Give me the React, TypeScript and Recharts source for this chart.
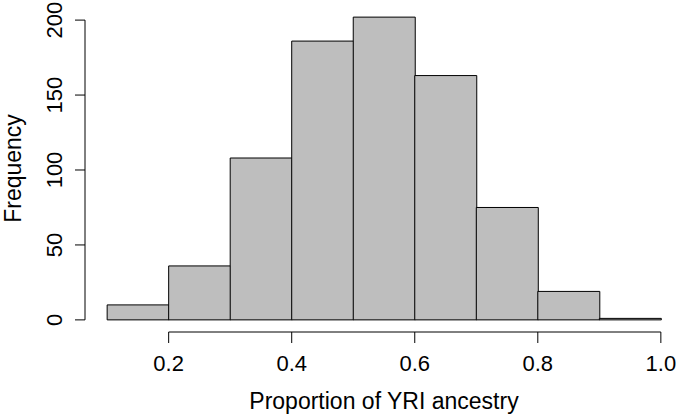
import React from 'react';
import { BarChart, Bar, XAxis, YAxis, ReferenceLine } from 'recharts';

// histogram bins (left edges) and counts, bin width 0.1
const binStarts = [0.1, 0.2, 0.3, 0.4, 0.5, 0.6, 0.7, 0.8, 0.9];
const counts = [10, 36, 108, 186, 202, 163, 75, 19, 1];
const binWidth = 0.1;

const xTicks = [0.2, 0.4, 0.6, 0.8, 1.0];
const xTickLabels = ['0.2', '0.4', '0.6', '0.8', '1.0'];
const yTicks = [0, 50, 100, 150, 200];

const xTitle = 'Proportion of YRI ancestry';
const yTitle = 'Frequency';

const FONT = '"Liberation Sans", Arial, Helvetica, sans-serif';

const data = binStarts.map((s, i) => ({
    start: s,
    mid: Math.round((s + binWidth / 2) * 100) / 100,
    count: counts[i],
}));

// R-style 4% padding around the data range
const xLo = binStarts[0];
const xHi = binStarts[binStarts.length - 1] + binWidth;
const xPad = (xHi - xLo) * 0.04;
const yMax = Math.max(...counts);
const yPad = yMax * 0.04;

const XTick = ({ x, y, payload }: any) => {
    const i = xTicks.indexOf(payload.value);
    return (
        <g>
            <line x1={x} y1={y} x2={x} y2={y + 11} stroke="#000" strokeWidth={1} />
            <text x={x} y={y + 39} textAnchor="middle" fontSize={22} fontFamily={FONT} fill="#000">
                {i >= 0 ? xTickLabels[i] : payload.value}
            </text>
        </g>
    );
};

const YTick = ({ x, y, payload }: any) => {
    const tx = x - 22.5;
    return (
        <g>
            <line x1={x} y1={y} x2={x - 10} y2={y} stroke="#000" strokeWidth={1} />
            <text
                x={tx}
                y={y}
                transform={`rotate(-90, ${tx}, ${y})`}
                textAnchor="middle"
                fontSize={22}
                fontFamily={FONT}
                fill="#000"
            >
                {payload.value}
            </text>
        </g>
    );
};

const XTitle = ({ viewBox }: any) => {
    const vb = viewBox || { x: 85, y: 332, width: 598, height: 87 };
    return (
        <text x={vb.x + vb.width / 2} y={vb.y + 77} textAnchor="middle" fontSize={23} fontFamily={FONT} fill="#000">
            {xTitle}
        </text>
    );
};

const YTitle = ({ viewBox }: any) => {
    const vb = viewBox || { x: 0, y: 5, width: 85, height: 327 };
    const tx = vb.x + 21;
    const ty = vb.y + vb.height / 2;
    return (
        <text
            x={tx}
            y={ty}
            transform={`rotate(-90, ${tx}, ${ty})`}
            textAnchor="middle"
            fontSize={23}
            fontFamily={FONT}
            fill="#000"
        >
            {yTitle}
        </text>
    );
};

export default function App() {
    return (
        <div style={{ position: 'absolute', left: 0, top: 0, width: 678, height: 419, overflow: 'hidden', background: '#fff' }}>
            <BarChart
                width={683}
                height={419}
                data={data}
                margin={{ top: 5, right: 0, bottom: 0, left: 0 }}
                barCategoryGap={0}
                barGap={0}
                style={{ fontFamily: FONT }}
            >
                <XAxis
                    dataKey="mid"
                    type="number"
                    domain={[xLo - xPad, xHi + xPad]}
                    allowDataOverflow
                    ticks={xTicks}
                    interval={0}
                    axisLine={false}
                    tickLine={false}
                    tickSize={0}
                    tickMargin={0}
                    height={87}
                    tick={<XTick />}
                    label={<XTitle />}
                />
                <YAxis
                    type="number"
                    domain={[-yPad, yMax + yPad]}
                    allowDataOverflow
                    ticks={yTicks}
                    interval={0}
                    axisLine={false}
                    tickLine={false}
                    tickSize={0}
                    tickMargin={0}
                    width={85}
                    tick={<YTick />}
                    label={<YTitle />}
                />
                <Bar dataKey="count" fill="#bebebe" stroke="#000" strokeWidth={1} isAnimationActive={false} />
                <ReferenceLine
                    segment={[{ x: xTicks[0], y: -yPad }, { x: xTicks[xTicks.length - 1], y: -yPad }]}
                    stroke="#000"
                    strokeWidth={1}
                    ifOverflow="visible"
                />
                <ReferenceLine
                    segment={[{ x: xLo - xPad, y: yTicks[0] }, { x: xLo - xPad, y: yTicks[yTicks.length - 1] }]}
                    stroke="#000"
                    strokeWidth={1}
                    ifOverflow="visible"
                />
            </BarChart>
        </div>
    );
}
